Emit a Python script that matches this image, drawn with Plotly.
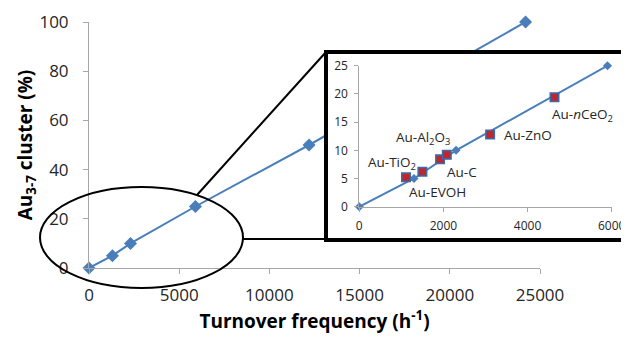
import plotly.graph_objects as go

# ---------------- data ----------------
main_tof = [0, 1300, 2300, 5900, 12200, 24200]
main_pct = [0, 5, 10, 25, 50, 100]

inset_tof = [0, 1300, 2300, 5900]
inset_pct = [0, 5, 10, 25]

cat_names = ["Au-TiO<sub>2</sub>", "Au-EVOH", "Au-Al<sub>2</sub>O<sub>3</sub>",
             "Au-C", "Au-ZnO", "Au-<i>n</i>CeO<sub>2</sub>"]
cat_tof = [1110, 1500, 1920, 2080, 3110, 4640]
cat_pct = [5.2, 6.2, 8.4, 9.2, 12.8, 19.4]

main_xticks = [0, 5000, 10000, 15000, 20000, 25000]
main_yticks = [0, 20, 40, 60, 80, 100]
inset_xticks = [0, 2000, 4000, 6000]
inset_yticks = [0, 5, 10, 15, 20, 25]

# label offsets (px): styling
label_shift = {
    "Au-TiO<sub>2</sub>": (-14, 14),
    "Au-EVOH": (15, -20),
    "Au-Al<sub>2</sub>O<sub>3</sub>": (-17, 21),
    "Au-C": (15, -17),
    "Au-ZnO": (38, 0),
    "Au-<i>n</i>CeO<sub>2</sub>": (28, -18),
}

# the page body adds an 8px margin; the figure fills the rest of the 629x337 window
OFF = 8
W, H = 629 - OFF, 337 - OFF
def px(x):
    return (x - OFF) / W
def py(y):
    return 1 - (y - OFF) / H

BLUE = "#4a7ebb"
RED = "#c0262d"
AX = "#a6a6a6"
TXT = "#262626"
FONT = "Open Sans"

fig = go.Figure()

# main series
fig.add_trace(go.Scatter(x=main_tof, y=main_pct, mode="lines+markers",
                         line=dict(color=BLUE, width=2),
                         marker=dict(symbol="diamond", size=10, color=BLUE),
                         xaxis="x", yaxis="y", showlegend=False, cliponaxis=False))
# empty trace for the white box subplot
fig.add_trace(go.Scatter(x=[], y=[], xaxis="x2", yaxis="y2", showlegend=False))
# inset series
fig.add_trace(go.Scatter(x=inset_tof, y=inset_pct, mode="lines+markers",
                         line=dict(color=BLUE, width=2),
                         marker=dict(symbol="diamond", size=7, color=BLUE),
                         xaxis="x3", yaxis="y3", showlegend=False, cliponaxis=False))
fig.add_trace(go.Scatter(x=cat_tof, y=cat_pct, mode="markers",
                         marker=dict(symbol="square", size=8.5, color=RED,
                                     line=dict(color="#3d6aa8", width=1.5)),
                         xaxis="x3", yaxis="y3", showlegend=False, cliponaxis=False))

for name, xv, yv in zip(cat_names, cat_tof, cat_pct):
    dx, dy = label_shift[name]
    fig.add_annotation(x=xv, y=yv, xref="x3", yref="y3", text=name, showarrow=False,
                       xshift=dx, yshift=dy, font=dict(family=FONT, size=13.5, color=TXT))

axis_common = dict(showgrid=False, zeroline=False, showline=True, linecolor=AX, linewidth=1,
                   ticks="outside", tickcolor=AX, tickwidth=1, automargin=False)

fig.update_layout(
    width=W, height=H, margin=dict(l=0, r=0, t=0, b=0),
    paper_bgcolor="white", plot_bgcolor="white",
    font=dict(family=FONT, color=TXT),
    xaxis=dict(domain=[px(89), px(540)], range=[0, 25000], anchor="y",
               tickvals=main_xticks, ticktext=[str(v) for v in main_xticks], ticklen=5,
               tickfont=dict(size=17, color=TXT), ticklabelstandoff=7,
               title=dict(text="<b>Turnover frequency (h<sup>-1</sup>)</b>",
                          font=dict(size=19, color="black"), standoff=1),
               **axis_common),
    yaxis=dict(domain=[py(268), py(22)], range=[0, 100], anchor="x",
               tickvals=main_yticks, ticklen=5,
               tickfont=dict(size=17, color=TXT), ticklabelstandoff=11,
               title=dict(text="<b>Au<sub>3-7</sub> cluster (%)</b>",
                          font=dict(size=19, color="black"), standoff=1),
               **axis_common),
    xaxis2=dict(domain=[px(326), 1.0], range=[0, 1], anchor="y2", visible=False, automargin=False),
    yaxis2=dict(domain=[py(240), py(52)], range=[0, 1], anchor="x2", visible=False, automargin=False),
    xaxis3=dict(domain=[px(359.3), px(611.7)], range=[0, 6000], anchor="y3",
                tickvals=inset_xticks, ticklen=4,
                tickfont=dict(size=12, color=TXT), ticklabelstandoff=4,
                **axis_common),
    yaxis3=dict(domain=[py(206.7), py(65.7)], range=[0, 25], anchor="x3",
                tickvals=inset_yticks, ticklen=4,
                tickfont=dict(size=12, color=TXT), ticklabelstandoff=4,
                **axis_common),
)

# white background for inset box (drawn in box subplot, above main data)
fig.add_shape(type="rect", xref="x2", yref="y2", x0=0, x1=1, y0=0, y1=1,
              fillcolor="white", line=dict(width=0), layer="below")
# box border
fig.add_shape(type="rect", xref="paper", yref="paper", x0=px(326), x1=px(634),
              y0=py(240), y1=py(52), line=dict(color="black", width=4), layer="above")
# ellipse
fig.add_shape(type="circle", xref="paper", yref="paper", x0=px(40), x1=px(243),
              y0=py(288), y1=py(187), line=dict(color="black", width=2), layer="above")
# connector lines
fig.add_shape(type="line", xref="paper", yref="paper", x0=px(197), y0=py(195),
              x1=px(326), y1=py(52), line=dict(color="black", width=2), layer="above")
fig.add_shape(type="line", xref="paper", yref="paper", x0=px(243), y0=py(239),
              x1=px(326), y1=py(239), line=dict(color="black", width=2), layer="above")

fig.write_html("out.html")
